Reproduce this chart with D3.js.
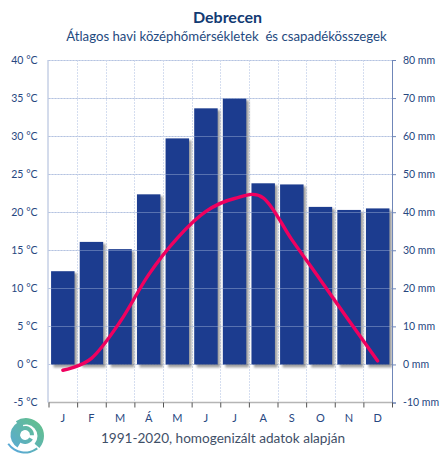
<!DOCTYPE html>
<html><head><meta charset="utf-8">
<script src="https://cdn.jsdelivr.net/npm/d3@7"></script>
<style>html,body{margin:0;padding:0;background:#fff}svg{display:block}text{font-family:Lato,"Open Sans",sans-serif;white-space:pre}</style>
</head><body><div id="c"></div>
<script>
const months=["J","F","M","Á","M","J","J","A","S","O","N","D"];
const precipitation=[24.5,32.2,30.3,44.7,59.4,67.3,69.9,47.6,47.3,41.4,40.6,41];
const temperature=[-0.76,0.8,5.6,11.8,16.6,20.1,21.8,21.9,16.4,11.1,5.75,0.46];
const tempTicks=[-5,0,5,10,15,20,25,30,35,40];
const rainTicks=[-10,0,10,20,30,40,50,60,70,80];
const W=440,H=455,L=48.5,R=392,T=60,B=402.5;
const svg=d3.select("#c").append("svg").attr("width",W).attr("height",H);
const defs=svg.append("defs");
const f=defs.append("filter").attr("id","sh").attr("x","-20%").attr("y","-5%").attr("width","150%").attr("height","115%");
f.append("feGaussianBlur").attr("stdDeviation",1.1);
const grad=defs.append("linearGradient").attr("id","lg").attr("gradientUnits","userSpaceOnUse").attr("x1",-15).attr("y1",15).attr("x2",15).attr("y2",-15);
grad.append("stop").attr("offset","0").attr("stop-color","#5aa9d6");
grad.append("stop").attr("offset","1").attr("stop-color","#63c08c");
const x=d3.scaleBand().domain(d3.range(12)).range([L,R]).paddingInner(0.18).paddingOuter(0.09);
const xb=d3.scaleLinear().domain([0,12]).range([L,R]);
const yT=d3.scaleLinear().domain([-5,40]).range([B,T]);
const yP=d3.scaleLinear().domain([-10,80]).range([B,T]);
const grid=svg.append("g").attr("stroke","#b4c3e2").attr("stroke-width",1).attr("stroke-dasharray","2 1");
const hTicks=tempTicks.filter(d=>d>-5);
grid.selectAll(".h").data(hTicks).join("line")
 .attr("x1",L).attr("x2",R).attr("y1",d=>Math.round(yT(d))+.5).attr("y2",d=>Math.round(yT(d))+.5);
grid.selectAll(".v").data(d3.range(1,12)).join("line").attr("stroke","#d5def0")
 .attr("x1",d=>Math.round(xb(d))+.5).attr("x2",d=>Math.round(xb(d))+.5).attr("y1",T).attr("y2",B);
svg.append("g").selectAll("rect").data(precipitation).join("rect")
 .attr("x",(d,i)=>x(i)+2.5).attr("width",x.bandwidth()).attr("y",d=>yP(d)+2).attr("height",d=>yP(0)-yP(d)+1)
 .attr("fill","#777").attr("opacity",.7).attr("filter","url(#sh)");
svg.append("g").selectAll("rect").data(precipitation).join("rect")
 .attr("x",(d,i)=>x(i)).attr("width",x.bandwidth()).attr("y",d=>yP(d)).attr("height",d=>yP(0)-yP(d))
 .attr("fill","#1c3c8f");
svg.append("g").attr("stroke","#b4c3e2").attr("stroke-opacity",.4).selectAll("line").data(hTicks.filter(d=>d>0)).join("line")
 .attr("x1",L).attr("x2",R).attr("y1",d=>Math.round(yT(d))+.5).attr("y2",d=>Math.round(yT(d))+.5);
const line=d3.line().x((d,i)=>x(i)+x.bandwidth()/2).y(d=>yT(d)).curve(d3.curveCatmullRom.alpha(0));
svg.append("path").datum(temperature).attr("d",line).attr("fill","none").attr("stroke","#f0005f").attr("stroke-width",3.4).attr("stroke-linecap","round");
svg.append("line").attr("x1",L).attr("x2",R).attr("y1",B).attr("y2",B).attr("stroke","#b5b5b5").attr("stroke-width",1.6);
svg.append("line").attr("x1",L-.5).attr("x2",L-.5).attr("y1",T).attr("y2",B).attr("stroke","#a9b8d8");
const axL=svg.append("g").attr("transform",`translate(${L},0)`).call(d3.axisLeft(yT).tickValues(tempTicks).tickSize(0).tickPadding(11).tickFormat(d=>d+" °C"));
axL.select(".domain").remove();
axL.selectAll("text").attr("fill","#27477f").attr("font-size",10.5);
const axR=svg.append("g").attr("transform",`translate(${R},0)`).call(d3.axisRight(yP).tickValues(rainTicks).tickSize(4).tickPadding(7).tickFormat(d=>d+" mm"));
axR.select(".domain").attr("stroke","#6f86b8").attr("stroke-width",1);
axR.selectAll("line").attr("stroke","#6f86b8");
axR.selectAll("text").attr("fill","#27477f").attr("font-size",10.5);
const axB=svg.append("g").attr("transform",`translate(0,${B})`).call(d3.axisBottom(xb).tickValues(d3.range(0,13)).tickSize(5).tickFormat(""));
axB.select(".domain").remove();axB.selectAll("line").attr("stroke","#555");
svg.append("g").selectAll("text").data(months).join("text").attr("x",(d,i)=>x(i)+x.bandwidth()/2).attr("y",422)
 .attr("text-anchor","middle").attr("font-size",11).attr("fill","#27477f").text(d=>d);
svg.append("text").attr("x",227.5).attr("y",23).attr("text-anchor","middle").attr("font-size",16).attr("font-weight",700).attr("fill","#123a73").text("Debrecen");
svg.append("text").attr("x",226.5).attr("y",41).attr("text-anchor","middle").attr("font-size",13.2).attr("fill","#1f4a80").text("Átlagos havi középhőmérsékletek  és csapadékösszegek");
svg.append("text").attr("x",223).attr("y",442.5).attr("text-anchor","middle").attr("font-size",13.6).attr("fill","#3f5068").text("1991-2020, homogenizált adatok alapján");
const logo=svg.append("g").attr("transform","translate(25,435)").attr("fill","url(#lg)");
const arc=d3.arc();
logo.append("path").attr("transform","translate(1,1)").attr("d",arc({innerRadius:11.5,outerRadius:18,startAngle:-0.6,endAngle:2.3}));
logo.append("path").attr("d",arc({innerRadius:5,outerRadius:14.5,startAngle:-2.6,endAngle:-0.2}));
logo.append("path").attr("d",arc({innerRadius:5,outerRadius:9,startAngle:-4.2,endAngle:1.6}));
logo.append("path").attr("transform","translate(0,-3)").attr("d",arc({innerRadius:19.5,outerRadius:21.5,startAngle:2.5,endAngle:4.1}));
</script></body></html>
